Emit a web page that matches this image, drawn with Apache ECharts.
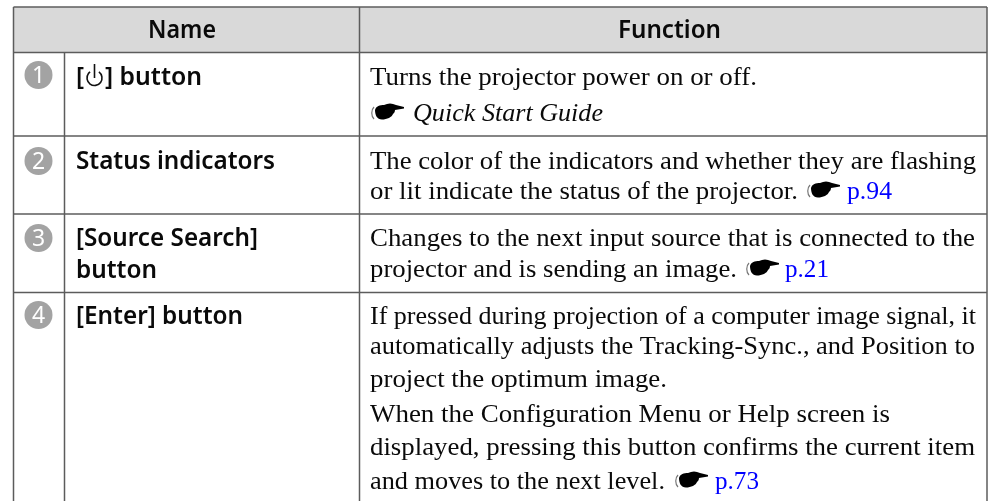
<!DOCTYPE html>
<html><head><meta charset="utf-8">
<style>html,body{margin:0;padding:0;background:#fff}#c{width:995px;height:501px}</style>
<script src="https://cdn.jsdelivr.net/npm/echarts@6/dist/echarts.min.js"></script></head>
<body><div id="c"></div>
<script>
const headers = ["Name", "Function"];
const markers = ["1", "2", "3", "4"];
const names = ["] button", "Status indicators", "[Source Search]", "button", "[Enter] button"];
const funcLines = [
  "Turns the projector power on or off.",
  "The color of the indicators and whether they are flashing",
  "or lit indicate the status of the projector.",
  "Changes to the next input source that is connected to the",
  "projector and is sending an image.",
  "If pressed during projection of a computer image signal, it",
  "automatically adjusts the Tracking-Sync., and Position to",
  "project the optimum image.",
  "When the Configuration Menu or Help screen is",
  "displayed, pressing this button confirms the current item",
  "and moves to the next level."
];
const guideRef = "Quick Start Guide";
const pageRefs = ["p.94", "p.21", "p.73"];

// layout
const X = {l:13.5, a:64.5, b:359.5, r:987};
const Y = {t:7, h:52.5, r1:136, r2:214, r3:292.5, end:501};
const nameY = [78,162,239,271,317], nameX = [105,76,76,76,76], nameR = [202,275,258,157,243];
const markY = [75,161,238,315];
const funcY = [78,162,192,239,270,317,347,380,415,448,482];
const funcR = [757,976,798,975,737,976,975,667,890,975,665];
const refs = [{x:807,y:180,tx:847,tr:892,ty:192},{x:746,y:258,tx:785,tr:829,ty:270},{x:675,y:470,tx:715,tr:759,ty:482}];
const HAND = "M4 8C5 4 9 3 13 3C17 1 21 1 25 3L33 5L33 6.5L24 8C24 10 23 11 22 12C21 15 16 17.5 11 17.5C6 17.5 4 13 4 8Z";
echarts.graphic.registerShape('hand', echarts.graphic.extendPath(HAND, {}));
const SANS = '"Noto Sans"', SERIF = '"Liberation Serif"';
const ctx = document.createElement('canvas').getContext('2d');
const els = [];
const font = o => `${o.style||'normal'} ${o.w||'normal'} ${o.size}px ${o.fam}`;
// fit: horizontally scale a run so that it spans x .. right
const fit = (s,x,right,o) => { ctx.font = font(o); return (right-x)/ctx.measureText(s).width; };
const txt = (s,x,y,o) => els.push({type:'text',x,y,silent:true,z:5,scaleX:o.right?fit(s,x,o.right,o):1,style:{text:s,fill:o.fill||'#0a0a0a',font:font(o),align:'left',verticalAlign:'middle'}});
const line = (x1,y1,x2,y2) => els.push({type:'line',silent:true,z:3,shape:{x1,y1,x2,y2},style:{stroke:'#5c5c5c',lineWidth:1.5}});
const hand = (x,y) => {
  els.push({type:'hand',silent:true,z:4,x,y,style:{fill:'#000'}});
  els.push({type:'bezierCurve',silent:true,z:4,x,y,shape:{x1:3,y1:5,cpx1:0,cpy1:8,cpx2:0,cpy2:14,x2:3,y2:17},style:{stroke:'#777',lineWidth:1.2,fill:'none'}});
};
els.push({type:'rect',silent:true,z:1,shape:{x:X.l,y:Y.t,width:X.r-X.l,height:Y.h-Y.t},style:{fill:'#d9d9d9'}});
[Y.t,Y.h,Y.r1,Y.r2,Y.r3].forEach(y=>line(X.l,y,X.r,y));
[X.l,X.b,X.r].forEach(x=>line(x,Y.t,x,Y.end));
line(X.a,Y.h,X.a,Y.end);
const HEAD = {size:24.5,w:600,fam:SANS};
txt(headers[0],148,31,{...HEAD,right:216});
txt(headers[1],618,31,{...HEAD,right:721});
markers.forEach((m,i)=>{
  els.push({type:'circle',silent:true,z:4,shape:{cx:38.5,cy:markY[i],r:14},style:{fill:'#a3a3a3'}});
  els.push({type:'text',x:38.5,y:markY[i]+1,silent:true,z:5,style:{text:m,fill:'#fff',font:`normal 23px ${SANS}`,align:'center',verticalAlign:'middle'}});
});
names.forEach((n,i)=>txt(n,nameX[i],nameY[i],{...HEAD,right:nameR[i]}));
txt('[',76,78,HEAD);
els.push({type:'arc',silent:true,z:4,shape:{cx:94.5,cy:78,r:7.5,startAngle:-Math.PI*0.3,endAngle:-Math.PI*0.7,clockwise:true},style:{stroke:'#111',lineWidth:1.6,fill:'none'}});
els.push({type:'line',silent:true,z:4,shape:{x1:94.5,y1:64,x2:94.5,y2:78},style:{stroke:'#111',lineWidth:1.6}});
const BODY = {size:25.5,fam:SERIF};
funcLines.forEach((t,i)=>txt(t,370,funcY[i],{...BODY,right:funcR[i]}));
hand(371,102);
txt(guideRef,413,114,{...BODY,style:'italic',right:603});
refs.forEach((r,i)=>{hand(r.x,r.y);txt(pageRefs[i],r.tx,r.ty,{...BODY,fill:'#0000ff',right:r.tr});});
const chart = echarts.init(document.getElementById('c'),null,{renderer:'canvas'});
chart.setOption({animation:false,backgroundColor:'#fff',graphic:{elements:els}});
</script></body></html>
